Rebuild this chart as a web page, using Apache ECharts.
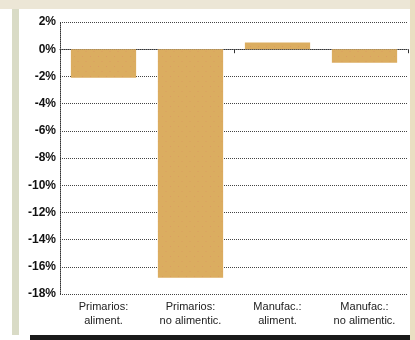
<!DOCTYPE html>
<html>
<head>
<meta charset="utf-8">
<script src="https://cdn.jsdelivr.net/npm/echarts@6/dist/echarts.min.js"></script>
<style>
  html, body { margin: 0; padding: 0; background: #fff; }
  #chart { width: 415px; height: 340px; }
</style>
</head>
<body>
<div id="chart"></div>
<script>
// datos del gráfico
var categorias = ['Primarios:\naliment.', 'Primarios:\nno alimentic.', 'Manufac.:\naliment.', 'Manufac.:\nno alimentic.']
var valores = [-2.1, -16.8, 0.5, -1.0]
var ejeMin = -18
var ejeMax = 2
var ejePaso = 2

var myChart = echarts.init(document.getElementById('chart'))

var fuente = '"Liberation Sans Narrow", "Liberation Sans", sans-serif'

var option = {
  backgroundColor: '#fff',
  animation: false,
  aria: { enabled: true, decal: { show: true } },
  graphic: [
    // marco de la imagen original
    { type: 'rect', shape: { x: 0, y: 0, width: 415, height: 9 }, style: { fill: '#ece6d6' }, z: -10 },
    { type: 'rect', shape: { x: 12, y: 9, width: 7, height: 326 }, style: { fill: '#d9dbc6' }, z: -10 },
    { type: 'rect', shape: { x: 410, y: 0, width: 5, height: 340 }, style: { fill: '#eadfc2' }, z: -10 },
    { type: 'rect', shape: { x: 30, y: 335, width: 380, height: 5 }, style: { fill: '#1a1a1a' }, z: -10 }
  ],
  grid: { left: 60, right: 7, top: 22, bottom: 46 },
  xAxis: [
    {
      type: 'category',
      data: categorias,
      axisLine: { onZero: true, lineStyle: { color: '#333', type: 'dotted', width: 1 } },
      axisTick: { show: true, length: 4, lineStyle: { color: '#333' } },
      axisLabel: { show: false },
      splitLine: { show: false }
    },
    {
      type: 'category',
      data: categorias,
      position: 'bottom',
      axisLine: { show: false, onZero: false },
      axisTick: { show: false },
      axisLabel: {
        show: true,
        margin: 6,
        color: '#222',
        fontFamily: fuente,
        fontSize: 11,
        lineHeight: 14,
        interval: 0
      }
    }
  ],
  yAxis: {
    type: 'value',
    min: ejeMin,
    max: ejeMax,
    interval: ejePaso,
    axisLine: { show: true, lineStyle: { color: '#333', type: 'dotted', width: 1 } },
    axisTick: { show: false },
    axisLabel: {
      formatter: function (v) { return v + '%' },
      color: '#111',
      fontFamily: fuente,
      fontWeight: 'bold',
      fontSize: 12,
      margin: 4
    },
    splitLine: { show: true, lineStyle: { color: '#444', type: 'dotted', width: 1 } }
  },
  series: [
    {
      type: 'bar',
      data: valores,
      xAxisIndex: 0,
      barWidth: '75%',
      itemStyle: {
        color: '#dbad60',
        decal: {
          symbol: 'circle',
          symbolSize: 0.3,
          color: 'rgba(225,110,110,0.5)',
          dashArrayX: [[5, 3], [0, 4, 4, 0]],
          dashArrayY: [3, 2],
          rotation: 0
        }
      }
    }
  ]
}

myChart.setOption(option)
</script>
</body>
</html>
